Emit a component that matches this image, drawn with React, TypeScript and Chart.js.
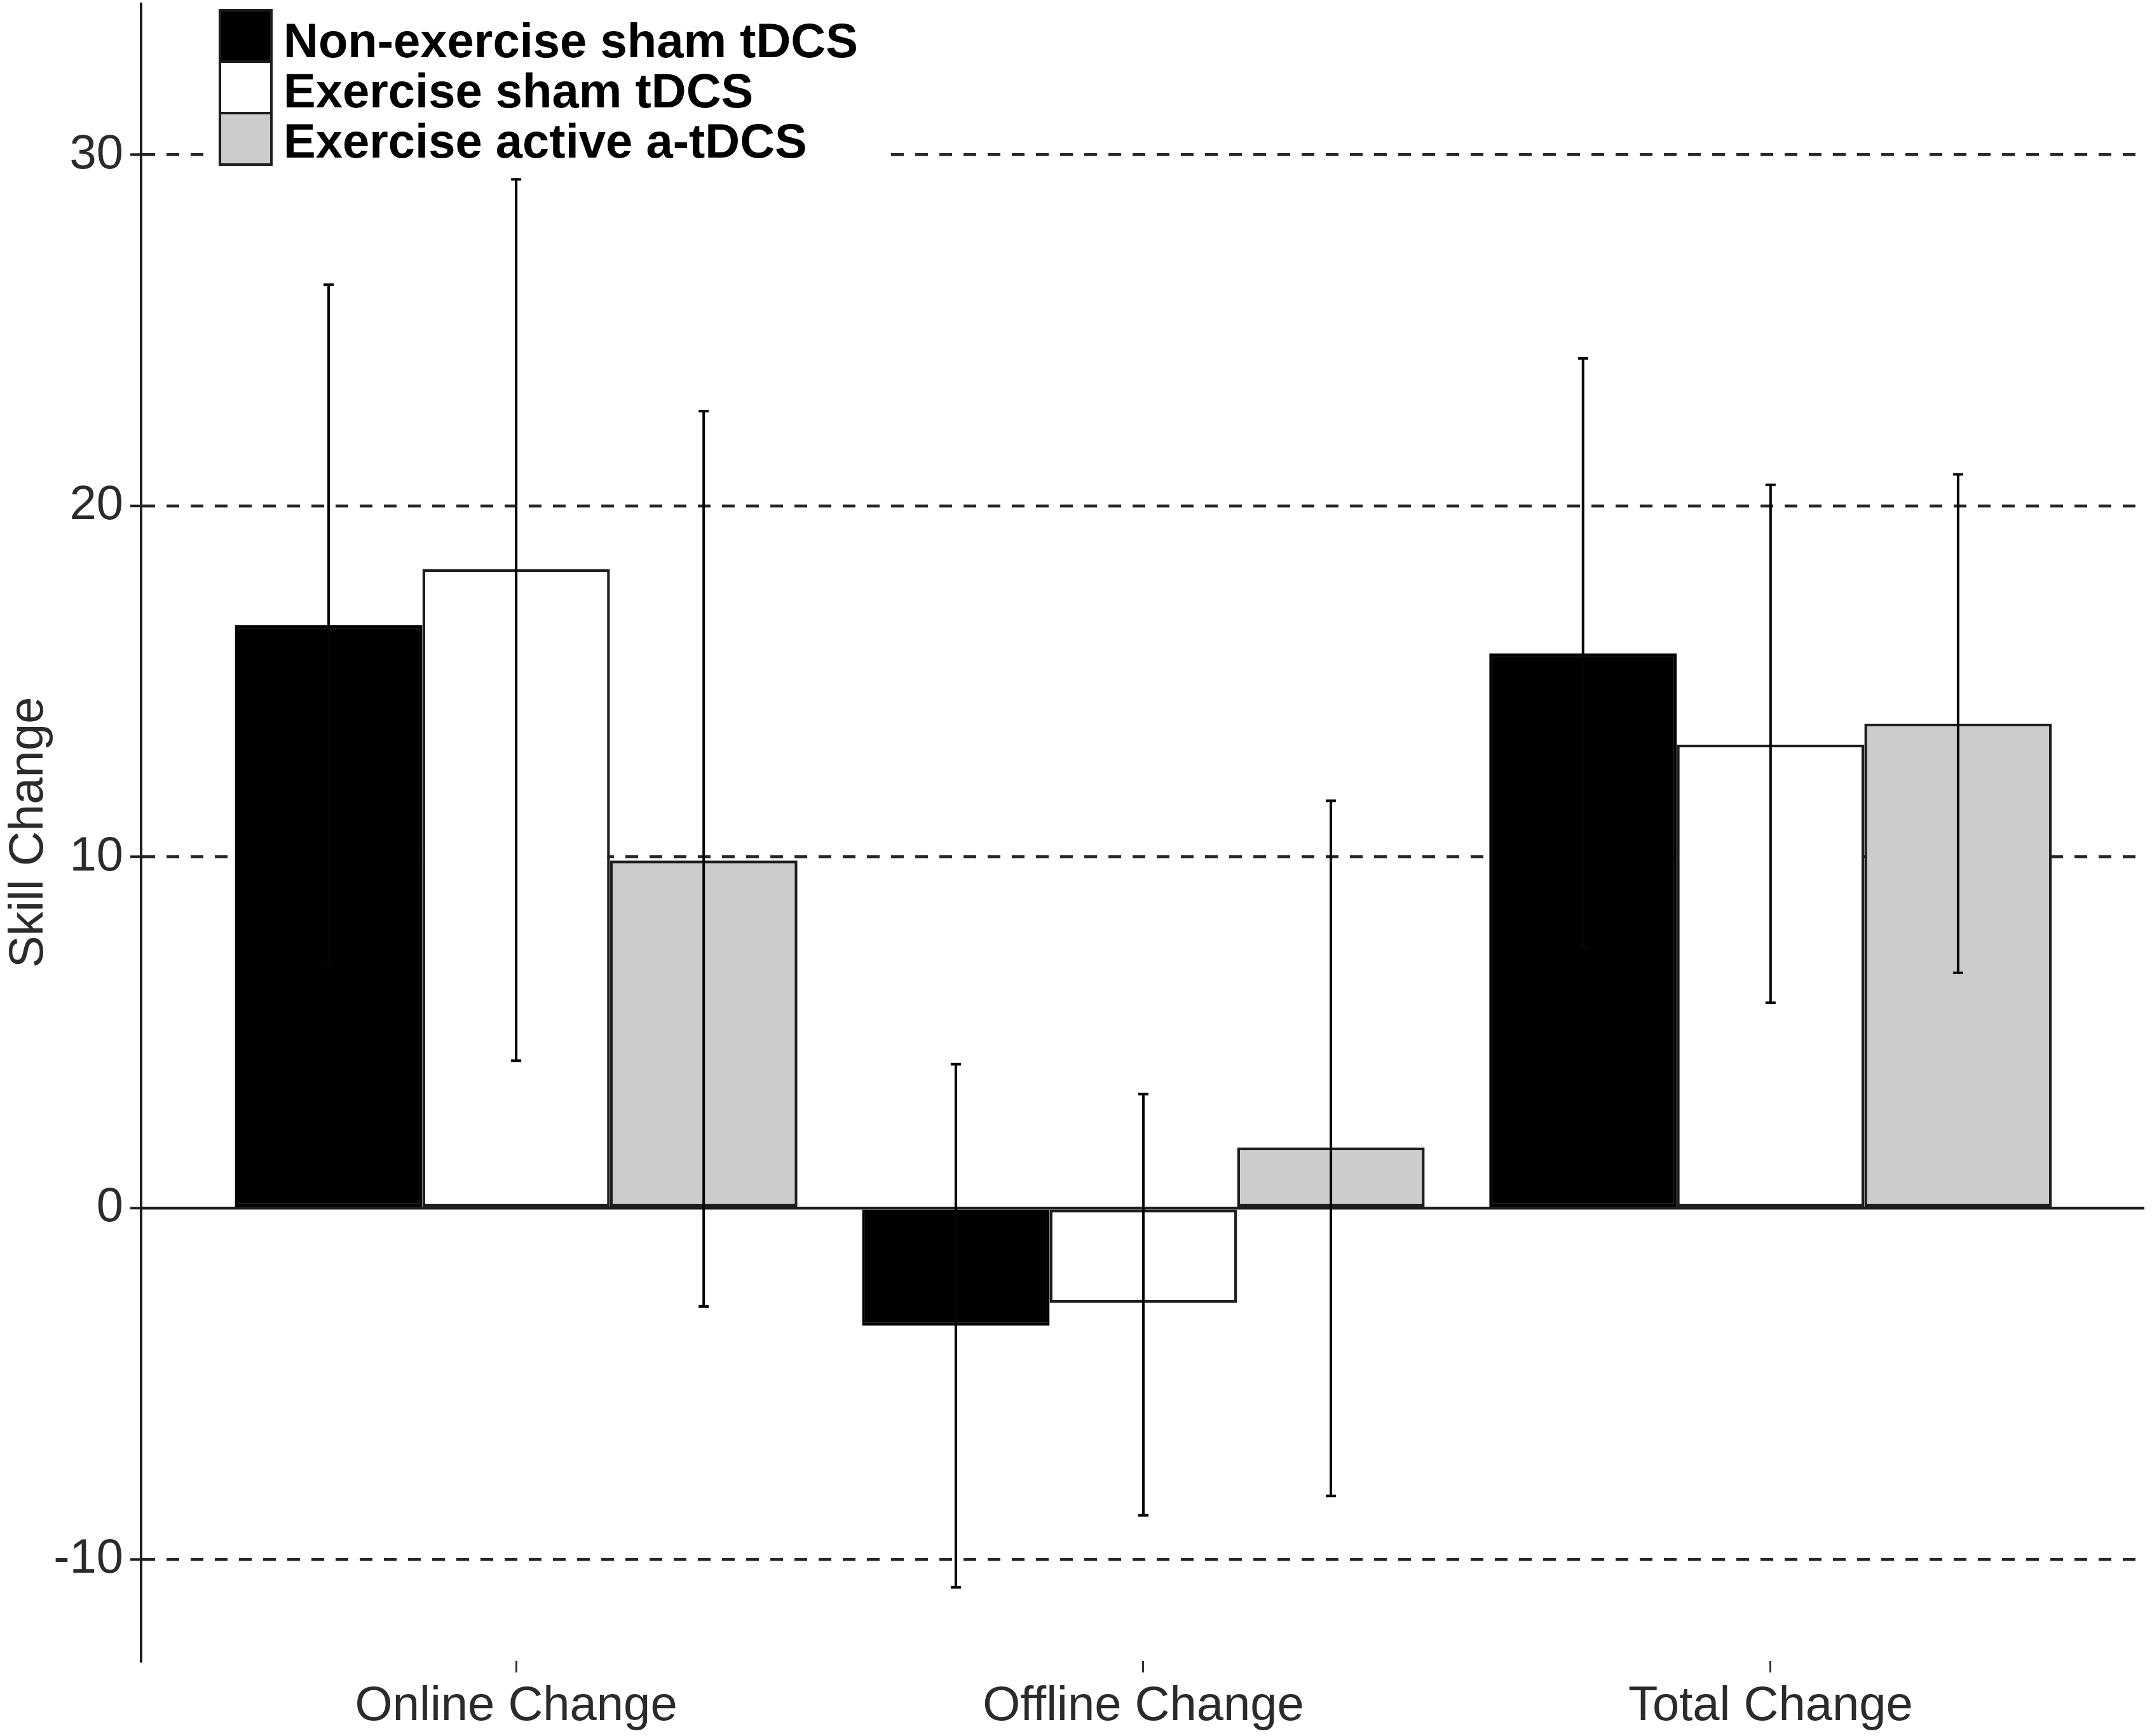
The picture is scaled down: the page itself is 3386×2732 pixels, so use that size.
import { useEffect, useRef } from "react";
import { Chart, registerables } from "chart.js";

Chart.register(...registerables);

// Categories and tick labels
const categories = ["Online Change", "Offline Change", "Total Change"];
const yTicks = [-10, 0, 10, 20, 30];

// Group names and fills
const seriesLabels = ["Non-exercise sham tDCS", "Exercise sham tDCS", "Exercise active a-tDCS"];
const seriesColors = ["#000000", "#ffffff", "#cccccc"];

// Mean skill change per group
const nonExerciseSham = [16.6, -3.35, 15.8];
const exerciseSham = [18.2, -2.7, 13.2];
const exerciseActive = [9.9, 1.73, 13.8];

// Error bar ends (low / high)
const nonExerciseShamLow = [6.9, -10.8, 7.4];
const nonExerciseShamHigh = [26.3, 4.1, 24.2];
const exerciseShamLow = [4.2, -8.75, 5.85];
const exerciseShamHigh = [29.3, 3.25, 20.6];
const exerciseActiveLow = [-2.8, -8.2, 6.7];
const exerciseActiveHigh = [22.7, 11.6, 20.9];

const seriesValues = [nonExerciseSham, exerciseSham, exerciseActive];
const seriesLows = [nonExerciseShamLow, exerciseShamLow, exerciseActiveLow];
const seriesHighs = [nonExerciseShamHigh, exerciseShamHigh, exerciseActiveHigh];

const FONT_FAMILY = '"Liberation Sans", Arial, Helvetica, sans-serif';
const INK = "#1e1e1e";

// draws the error bars on top of the bars
const errorBarPlugin = {
  id: "errorBars",
  afterDatasetsDraw(chart: Chart) {
    const { ctx } = chart;
    const yScale = chart.scales.y;
    ctx.save();
    ctx.strokeStyle = "#050505";
    ctx.lineWidth = 4;
    chart.data.datasets.forEach((_, di) => {
      const meta = chart.getDatasetMeta(di);
      meta.data.forEach((bar: any, i: number) => {
        const x = bar.x;
        const yLo = yScale.getPixelForValue(seriesLows[di][i]);
        const yHi = yScale.getPixelForValue(seriesHighs[di][i]);
        ctx.beginPath();
        ctx.moveTo(x, yLo);
        ctx.lineTo(x, yHi);
        ctx.moveTo(x - 8, yLo);
        ctx.lineTo(x + 8, yLo);
        ctx.moveTo(x - 8, yHi);
        ctx.lineTo(x + 8, yHi);
        ctx.stroke();
      });
    });
    ctx.restore();
  },
};

// legend in the top-left corner with a white background
const legendPlugin = {
  id: "cornerLegend",
  afterDraw(chart: Chart) {
    const { ctx } = chart;
    ctx.save();
    ctx.fillStyle = "#ffffff";
    ctx.fillRect(322, 0, 1072, 268);
    ctx.font = `bold 76px ${FONT_FAMILY}`;
    ctx.textBaseline = "alphabetic";
    ctx.textAlign = "left";
    chart.data.datasets.forEach((ds: any, i: number) => {
      const top = 16 + i * 81;
      ctx.fillStyle = ds.backgroundColor;
      ctx.fillRect(346, top, 81, 81);
      ctx.lineWidth = 4;
      ctx.strokeStyle = INK;
      ctx.strokeRect(346, top, 81, 81);
      ctx.fillStyle = "#000000";
      ctx.fillText(ds.label, 446, 90 + i * 79);
    });
    ctx.restore();
  },
};

export default function App() {
  const chartRef = useRef<HTMLCanvasElement>(null);
  const chartInstance = useRef<Chart | null>(null);

  useEffect(() => {
    if (!chartRef.current) return;
    if (chartInstance.current) chartInstance.current.destroy();
    const ctx = chartRef.current.getContext("2d");
    if (!ctx) return;

    const tickFont = { family: FONT_FAMILY, size: 76 };

    chartInstance.current = new Chart(ctx, {
      type: "bar",
      data: {
        datasets: seriesLabels.map((label, di) => ({
          label,
          data: seriesValues[di].map((y, i) => ({ x: i, y })),
          backgroundColor: seriesColors[di],
          borderColor: di === 0 ? "#000000" : INK,
          borderWidth: 4.5,
          borderSkipped: false,
          categoryPercentage: 0.897,
          barPercentage: 1.0,
        })),
      },
      options: {
        responsive: true,
        maintainAspectRatio: false,
        animation: false,
        devicePixelRatio: 1,
        layout: { padding: { left: 0, top: 6, right: 12, bottom: 0 } },
        plugins: {
          legend: { display: false },
          tooltip: { enabled: false },
        },
        scales: {
          x: {
            type: "linear",
            min: -0.598,
            max: 2.596,
            offset: false,
            afterBuildTicks: (scale: any) => {
              scale.ticks = categories.map((_, i) => ({ value: i }));
            },
            afterFit: (scale: any) => {
              scale.height = 118;
              scale.paddingLeft = 0;
              scale.paddingRight = 0;
            },
            border: { display: false },
            grid: {
              offset: false,
              drawOnChartArea: false,
              drawTicks: true,
              tickLength: 18,
              tickWidth: 3,
              tickColor: "#333333",
            },
            ticks: {
              callback: (v: any) => categories[v] ?? "",
              font: tickFont,
              color: "#2b2b2b",
              padding: 8,
              autoSkip: false,
              maxRotation: 0,
            },
          },
          y: {
            min: -12.9,
            max: 34.3,
            afterBuildTicks: (scale: any) => {
              scale.ticks = yTicks.map((value) => ({ value }));
            },
            afterFit: (scale: any) => {
              scale.width = 222;
              scale.paddingTop = 0;
              scale.paddingBottom = 0;
            },
            border: {
              display: true,
              color: INK,
              width: 4,
              dash: (c: any) => (c.tick && c.tick.value === 0 ? [] : [20, 18]),
            },
            grid: {
              color: (c: any) => (c.tick && c.tick.value === 0 ? INK : "#262626"),
              lineWidth: 4.5,
              drawTicks: true,
              tickLength: 17,
              tickWidth: 4,
              tickColor: INK,
            },
            title: {
              display: true,
              text: "Skill Change",
              font: tickFont,
              color: "#2b2b2b",
              padding: 0,
            },
            ticks: {
              font: tickFont,
              color: "#2b2b2b",
              padding: 11,
            },
          },
        },
      },
      plugins: [errorBarPlugin, legendPlugin],
    });

    return () => {
      if (chartInstance.current) {
        chartInstance.current.destroy();
        chartInstance.current = null;
      }
    };
  }, []);

  return (
    <div
      style={{
        position: "absolute",
        left: 0,
        top: 0,
        width: "3386px",
        height: "2732px",
        background: "#ffffff",
      }}
    >
      <canvas ref={chartRef} />
    </div>
  );
}
